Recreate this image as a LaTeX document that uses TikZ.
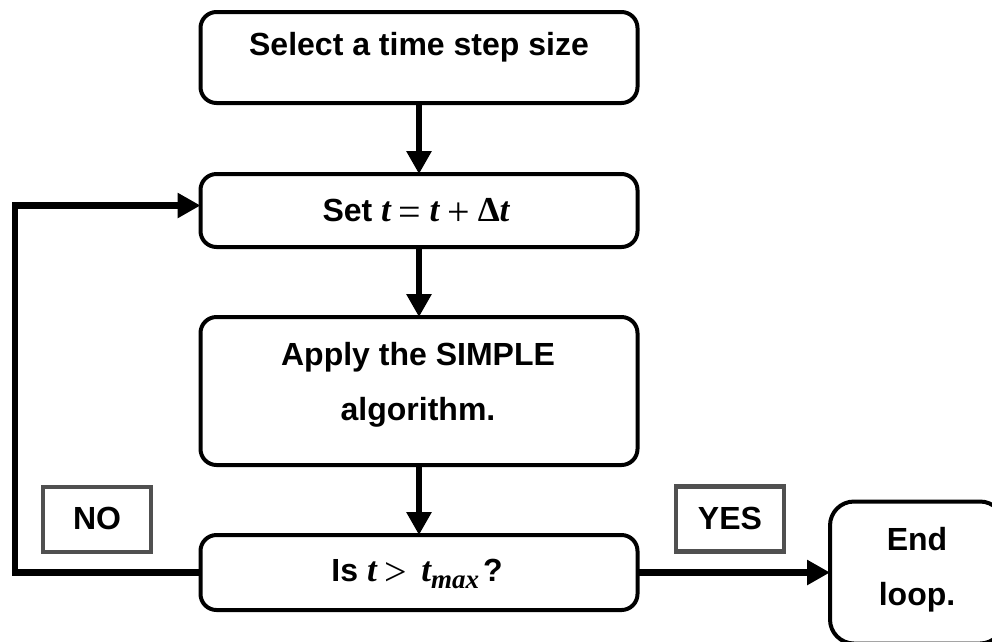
\documentclass[tikz,border=0pt]{standalone}
\usepackage{fontspec}
\setmainfont{Liberation Sans}
\newfontfamily\formulafont{Liberation Serif}
\usetikzlibrary{arrows.meta}
\definecolor{tagframe}{HTML}{505050}
% serif italic variable and upright operator for the formulas
\newcommand{\fvar}[1]{{\fontsize{35}{35}\selectfont\formulafont\bfseries\itshape #1}}
\newcommand{\fop}[1]{\hspace{8pt}\raisebox{-3.5pt}{\fontsize{40}{40}\selectfont\formulafont\mdseries\upshape #1}\hspace{8pt}}
\newcommand{\fsub}[1]{\raisebox{-7pt}{\fontsize{27}{27}\selectfont\formulafont\bfseries\itshape #1}}
\begin{document}
\begin{tikzpicture}[x=1pt,y=-1pt,
  flowbox/.style={draw=black, line width=4pt, rounded corners=16pt, fill=white,
                  inner sep=0pt, outer sep=0pt, minimum width=437pt},
  tagbox/.style={draw=tagframe, line width=4.5pt, fill=white, inner sep=0pt, outer sep=0pt,
                 minimum width=108pt, minimum height=65pt},
  txt/.style={font=\fontsize{32}{55}\selectfont\bfseries, align=center, inner sep=0pt},
  flowarrow/.style={draw=black, line width=6.5pt, line join=miter,
                    -{Triangle[length=23pt,width=24pt]}}]
  \useasboundingbox (0,0) rectangle (992,641);
  \clip (0,0) rectangle (992,641);

  % process boxes
  \node[flowbox, minimum height=91pt] (sel) at (419,57.5) {};
  \node[txt] (seltxt) at (419,47) {Select a time step size};

  \node[flowbox, minimum height=73pt] (set) at (419,210.5) {};
  \node[txt] (settxt) at (416,212)
    {Set \fvar{t}\fop{=}\fvar{t}\fop{+}{\fontsize{35}{35}\selectfont\formulafont\bfseries Δ}\fvar{t}};

  \node[flowbox, minimum height=148pt] (simple) at (419,391) {};
  \node[txt] (simpletxt) at (418,385) {Apply the SIMPLE\\algorithm.};

  \node[flowbox, minimum height=75pt] (test) at (419,572.5) {};
  \node[txt] (testtxt) at (417,574)
    {Is \fvar{t}\fop{>}\hspace{6pt}\fvar{t}\fsub{max}\hspace{4pt}?};

  \node[flowbox, rounded corners=24pt, minimum width=174pt, minimum height=142pt] (end) at (917,572.5) {};
  \node[txt] (endtxt) at (917,570) {End\\loop.};

  % answer tags
  \node[tagbox] (no) at (97,519.5) {};
  \node[txt] (notxt) at (97,518) {NO};
  \node[tagbox] (yes) at (730,519) {};
  \node[txt] (yestxt) at (730,518) {YES};

  % connectors
  \draw[flowarrow] (sel.south) -- (set.north);
  \draw[flowarrow] (set.south) -- (simple.north);
  \draw[flowarrow] (simple.south) -- (test.north);
  \draw[flowarrow] (test.east) -- (end.west);

  \coordinate (loopcorner) at (15,572.5);
  \draw[flowarrow] (test.west) -- (loopcorner) |- ([yshift=5pt]set.west);
\end{tikzpicture}
\end{document}
